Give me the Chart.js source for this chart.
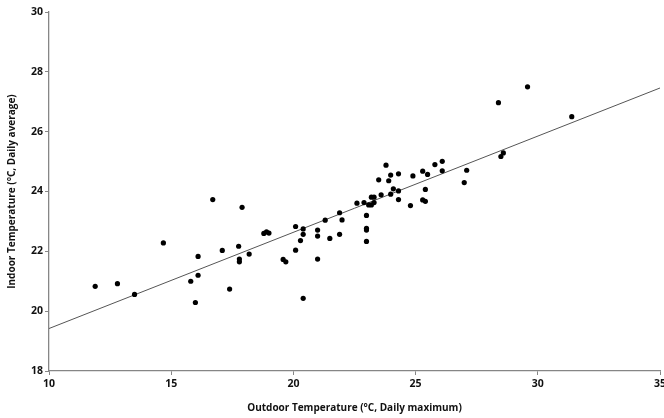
<!DOCTYPE html>
<html>
<head>
<meta charset="utf-8">
<script src="https://cdn.jsdelivr.net/npm/chart.js@4/dist/chart.umd.min.js"></script>
<style>
  html, body { margin: 0; padding: 0; background: #fff; }
  #wrap { width: 664px; height: 418px; position: relative; }
</style>
</head>
<body>
<div id="wrap"><canvas id="tempChart"></canvas></div>
<script>
// daily max outdoor temp vs daily average indoor temp
var outdoorMax = [11.89, 12.80, 13.50, 14.68, 15.80, 15.99, 16.10, 16.10, 16.70, 17.09,
                  17.39, 17.76, 17.79, 17.79, 17.90, 18.19, 18.79, 18.90, 19.00, 19.58,
                  19.69, 20.09, 20.09, 20.29, 20.40, 20.40, 20.40, 20.99, 20.99, 20.99,
                  21.30, 21.49, 21.89, 21.89, 21.99, 22.60, 22.89, 22.99, 22.99, 22.99,
                  22.99, 23.08, 23.19, 23.19, 23.30, 23.30, 23.49, 23.59, 23.79, 23.90,
                  23.98, 23.98, 24.09, 24.30, 24.30, 24.30, 24.79, 24.89, 25.29, 25.29,
                  25.40, 25.40, 25.49, 25.79, 26.09, 26.09, 26.99, 27.09, 28.39, 28.49,
                  28.59, 29.58, 31.39];
var indoorAvg  = [20.83, 20.92, 20.56, 22.28, 21.00, 20.29, 21.83, 21.20, 23.73, 22.03,
                  20.74, 22.17, 21.74, 21.65, 23.47, 21.91, 22.60, 22.65, 22.61, 21.73,
                  21.65, 22.83, 22.04, 22.36, 22.75, 22.57, 20.43, 22.71, 22.51, 21.74,
                  23.04, 22.43, 23.29, 22.57, 23.05, 23.61, 23.63, 23.20, 22.77, 22.71,
                  22.33, 23.55, 23.55, 23.81, 23.81, 23.63, 24.39, 23.89, 24.88, 24.36,
                  24.55, 23.91, 24.09, 24.59, 24.02, 23.73, 23.53, 24.52, 24.68, 23.72,
                  24.07, 23.67, 24.57, 24.90, 25.01, 24.69, 24.30, 24.71, 26.97, 25.17,
                  25.29, 27.50, 26.50];

// fitted line end points
var trendX = [10, 35];
var trendY = [19.42, 27.46];

var xTicks = [10, 15, 20, 25, 30, 35];
var yTicks = [18, 20, 22, 24, 26, 28, 30];

var points = outdoorMax.map(function (x, i) { return { x: x, y: indoorAvg[i] }; });
var trend = trendX.map(function (x, i) { return { x: x, y: trendY[i] }; });

var axisColor = '#868686';
var tickFont = { family: 'Open Sans', size: 10.5, weight: 'bold' };
var titleFont = { family: 'Open Sans', size: 10, weight: 'bold' };
var ctx = document.getElementById('tempChart').getContext('2d');

new Chart(ctx, {
    type: 'scatter',
    data: {
        datasets: [{
            label: 'Days',
            data: points,
            backgroundColor: '#000',
            borderWidth: 0,
            pointRadius: 2.6
        }, {
            label: 'Trend',
            type: 'line',
            data: trend,
            borderColor: '#555',
            borderWidth: 1,
            pointRadius: 0,
            fill: false
        }]
    },
    options: {
        responsive: true,
        maintainAspectRatio: false,
        animation: false,
        layout: { padding: { top: 12, right: 3, left: 0, bottom: 0 } },
        plugins: { legend: { display: false }, tooltip: { enabled: false } },
        scales: {
            x: {
                type: 'linear',
                min: 10,
                max: 35,
                afterBuildTicks: function (scale) {
                    scale.ticks = xTicks.map(function (v) { return { value: v }; });
                },
                afterFit: function (scale) {
                    scale.height = 47;
                    scale.paddingRight = 0;
                },
                border: { color: axisColor, width: 1.3 },
                grid: { drawOnChartArea: false, drawTicks: true, tickLength: 4, color: axisColor },
                ticks: {
                    color: '#111',
                    padding: 3,
                    maxRotation: 0,
                    font: tickFont
                },
                title: {
                    display: true,
                    text: 'Outdoor Temperature (°C, Daily maximum)',
                    color: '#111',
                    padding: { top: 7 },
                    font: titleFont
                }
            },
            y: {
                min: 18,
                max: 30,
                afterBuildTicks: function (scale) {
                    scale.ticks = yTicks.map(function (v) { return { value: v }; });
                },
                afterFit: function (scale) {
                    scale.width = 49;
                },
                border: { color: axisColor, width: 1.3 },
                grid: { drawOnChartArea: false, drawTicks: true, tickLength: 4, color: axisColor },
                ticks: {
                    color: '#111',
                    padding: 2,
                    font: tickFont
                },
                title: {
                    display: true,
                    text: 'Indoor Temperature (°C, Daily average)',
                    color: '#111',
                    padding: { top: 6, bottom: 0 },
                    font: titleFont
                }
            }
        }
    }
});
</script>
</body>
</html>
